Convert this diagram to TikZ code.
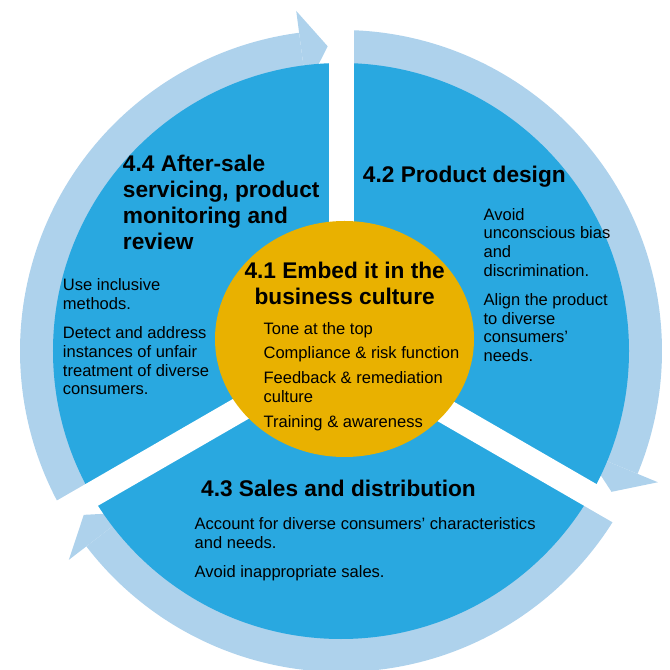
\documentclass[tikz,border=0pt]{standalone}
\usepackage{fontspec}
\setmainfont{Liberation Sans}
\definecolor{discblue}{RGB}{41,168,224}
\definecolor{ringblue}{RGB}{174,210,236}
\definecolor{coregold}{RGB}{233,177,0}

\begin{document}
\begin{tikzpicture}[
  x=0.75pt, y=0.75pt,
  head/.style={inner sep=0, anchor=base west, align=left, font=\fontsize{17}{19.5}\selectfont\bfseries},
  body/.style={inner sep=0, anchor=base west, align=left, font=\fontsize{12.4}{14.1}\selectfont}
]
\useasboundingbox (-341,-319) rectangle (329,351);
% ring pieces, each one ending in an arrowhead in front of the next spoke
\foreach \g in {90,-30,-150} {
  \fill[ringblue] (\g:321) arc[start angle=\g, end angle=\g-112.5, radius=321]
    -- ({\g-112.5}:280) arc[start angle=\g-112.5, end angle=\g, radius=280] -- cycle;
  \fill[ringblue] ({\g-112.5}:265) -- ({\g-117.5}:305) -- ({\g-112.5}:343) -- cycle;
}
\fill[discblue] (0,0) circle[radius=288];
% white spokes between the stages
\foreach \g in {90,-30,-150}
  \fill[white, rotate=\g] (0,-12.5) rectangle (360,12.5);
\fill[coregold] (3.5,12) ellipse[x radius=129.5, y radius=118];

% multi-line nodes sit on the baseline of their last line
\node[head] (aftersale) at (-218.3,101.7) {4.4 After-sale\\servicing, product\\monitoring and\\review};
\node[body] (aftersale text) at (-278.3,-44) {Use inclusive\\methods.\\[7.5pt]Detect and address\\instances of unfair\\treatment of diverse\\consumers.};
\node[head] (design) at (21.7,168) {4.2 Product design};
\node[body] (design text) at (142.3,-10.7) {Avoid\\unconscious bias\\and\\discrimination.\\[7.5pt]Align the product\\to diverse\\consumers’\\needs.};
\node[head] (sales) at (-140.1,-146) {4.3 Sales and distribution};
\node[body] (sales text) at (-146.6,-226) {Account for diverse consumers’ characteristics\\and needs.\\[7.5pt]Avoid inappropriate sales.};
\node[head, anchor=base, align=center] (core) at (3.7,46) {4.1 Embed it in the\\business culture};
\node[body] (core text) at (-77.7,-76.3) {Tone at the top\\[4.5pt]Compliance \& risk function\\[4.5pt]Feedback \& remediation\\culture\\[4.5pt]Training \& awareness};
\end{tikzpicture}
\end{document}
